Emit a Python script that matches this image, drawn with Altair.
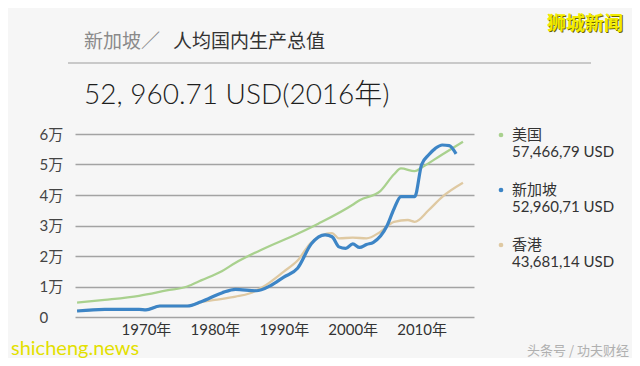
import altair as alt
import pandas as pd

# ---- data ----
usa_years = [1960, 1964, 1969, 1973, 1976, 1978, 1981, 1983, 1987, 1992, 1995, 2000,
             2001, 2004, 2006, 2007, 2009, 2010, 2013, 2016]
usa_vals = [4700, 5600, 6950, 8700, 10000, 12000, 15000, 17800, 22300, 27300, 30600, 36800,
            38300, 41300, 46800, 48700, 47800, 49000, 53300, 57467]

sg_years = [1960, 1964, 1969, 1970, 1972, 1976, 1978, 1981, 1983, 1986, 1988, 1990, 1992,
            1994, 1996, 1997, 1998, 1999, 2000, 2001, 2002, 2003, 2005, 2006, 2007, 2009,
            2010, 2011, 2012, 2013, 2014, 2015]
sg_vals = [1970, 2520, 2520, 2350, 3600, 3610, 5000, 7900, 9080, 8600, 10200, 13100, 16000,
           24000, 26900, 26300, 23000, 22500, 24000, 22800, 23800, 24500, 30000, 35500, 39500,
           39500, 50000, 53100, 55300, 56400, 56200, 53500]

hk_years = [1960, 1964, 1969, 1970, 1972, 1976, 1978, 1980, 1983, 1985, 1987, 1990, 1992,
            1994, 1997, 1998, 2000, 2002, 2004, 2006, 2008, 2009, 2011, 2013, 2016]
hk_vals = [1970, 2520, 2520, 2350, 3600, 3610, 4900, 5600, 6700, 7700, 9900, 14900, 18500,
           24500, 27500, 25800, 26000, 25800, 27900, 31200, 31800, 31200, 35000, 39400, 44000]

legend_names = ["美国", "新加坡", "香港"]
legend_values = ["57,466,79 USD", "52,960,71 USD", "43,681,14 USD"]
series_colors = ["#a9d18e", "#3d85c6", "#dfc9a2"]

x_ticks = [1970, 1980, 1990, 2000, 2010]
y_ticks = [0, 10000, 20000, 30000, 40000, 50000, 60000]

title_gray = "新加坡／"
title_dark = "人均国内生产总值"
headline = "52, 960.71  USD(2016年)"
wm_top = "狮城新闻"
wm_bottom = "shicheng.news"
credit = "头条号 / 功夫财经"

FONT = "Lato, 'Noto Sans CJK SC', sans-serif"
CJK = "'Noto Sans CJK SC', sans-serif"

W, H = 399, 183

xs = alt.Scale(domain=[1959.7, 2017.6], nice=False)
ys = alt.Scale(domain=[0, 60000], nice=False)


def series_df(years, vals):
    return pd.DataFrame({"year": years, "gdp": vals})


x_enc = alt.X("year:Q", scale=xs,
              axis=alt.Axis(values=x_ticks, labelExpr="datum.value + '年'", grid=False,
                            domain=False, ticks=False, labelPadding=5, labelFontSize=15,
                            labelColor="#333", labelFont=FONT, title=None))
y_enc = alt.Y("gdp:Q", scale=ys,
              axis=alt.Axis(values=y_ticks,
                            labelExpr="datum.value == 0 ? '0' : (datum.value / 10000) + '万'",
                            grid=True, gridColor="#a3a3a3", gridWidth=1.3, domain=False,
                            ticks=False, labelAlign="left", labelPadding=36, labelFontSize=15,
                            labelColor="#444", labelFont=FONT, labelOverlap=False, title=None))

line_hk = alt.Chart(series_df(hk_years, hk_vals)).mark_line(
    color=series_colors[2], strokeWidth=2.3, interpolate="monotone").encode(x=x_enc, y=y_enc)
line_usa = alt.Chart(series_df(usa_years, usa_vals)).mark_line(
    color=series_colors[0], strokeWidth=2.3, interpolate="monotone").encode(x=x_enc, y=y_enc)
line_sg = alt.Chart(series_df(sg_years, sg_vals)).mark_line(
    color=series_colors[1], strokeWidth=3.2, interpolate="monotone").encode(x=x_enc, y=y_enc)


def text_layer(txt, x, y, size, color, align="left", font=FONT, weight="normal"):
    return alt.Chart(pd.DataFrame({"t": [txt]})).mark_text(
        align=align, baseline="middle", fontSize=size, color=color, font=font,
        fontWeight=weight).encode(x=alt.value(x), y=alt.value(y), text="t:N")


layers = [line_hk, line_usa, line_sg]

# header
layers.append(text_layer(title_gray, 9, -92, 19, "#8a8a8a", font=CJK))
layers.append(text_layer(title_dark, 98, -92, 19, "#333333", font=CJK))
layers.append(alt.Chart(pd.DataFrame({"a": [0]})).mark_rule(color="#9c9c9c", strokeWidth=1).encode(
    x=alt.value(-7), x2=alt.value(516), y=alt.value(-71)))
layers.append(text_layer(headline, 9, -38, 28, "#1e1e1e", weight=300))

# legend
for i, (nm, val, col) in enumerate(zip(legend_names, legend_values, series_colors)):
    y0 = 1 + i * 55
    layers.append(alt.Chart(pd.DataFrame({"n": [nm]})).mark_circle(size=22, color=col, opacity=1).encode(
        x=alt.value(426), y=alt.value(y0)))
    layers.append(text_layer(nm, 437, y0, 15, "#333333"))
    layers.append(text_layer(val, 437, y0 + 17, 15, "#333333"))

# watermarks
layers.append(text_layer(wm_top, 549, -109, 19, "#6b6400", align="right", font=CJK, weight="bold"))
layers.append(text_layer(wm_top, 548, -110, 19, "#f2ec00", align="right", font=CJK, weight="bold"))
layers.append(text_layer(wm_bottom, -64, 215, 20, "#e3e000"))
layers.append(text_layer(credit, 554, 217, 13, "#b0b0b0", align="right", font=CJK))

chart = alt.layer(*layers).properties(
    width=W, height=H,
    autosize=alt.AutoSizeParams(type="none"),
    padding={"left": 67, "top": 126, "right": 158, "bottom": 41},
    background="#f6f6f6",
).configure_view(stroke=None)

chart.save("out.html", embed_options={"renderer": "svg", "actions": False})
